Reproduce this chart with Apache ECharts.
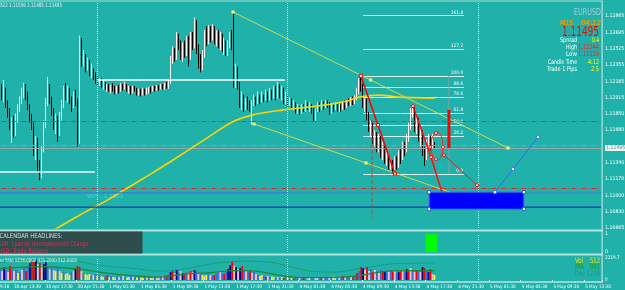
<!DOCTYPE html>
<html><head><meta charset="utf-8">
<script src="https://cdn.jsdelivr.net/npm/echarts@6/dist/echarts.min.js"></script>
<style>html,body{margin:0;padding:0;background:#20b2aa;overflow:hidden}#c{width:625px;height:290px}</style>
</head><body><div id="c"></div>
<script>
const _ctx = document.createElement('canvas').getContext('2d');
function hasFont(f) {
  const s = '30 Apr 13:30 WMwil';
  const m = font => { _ctx.font = font; return _ctx.measureText(s).width; };
  return m('20px monospace') !== m('20px "' + f + '", monospace') || m('20px serif') !== m('20px "' + f + '", serif');
}
const FAM_NAME = ['Liberation Sans Narrow', 'DejaVu Sans Condensed', 'Roboto Condensed', 'Open Sans Condensed', 'Liberation Sans'].find(hasFont) || 'Liberation Sans';
const FAM = '"' + FAM_NAME + '", Arial, sans-serif';
function textW(text, size, style) { _ctx.font = (style || '') + ' ' + size + 'px ' + FAM; return _ctx.measureText(text).width; }
function fitSize(text, width) { return 100 * width / textW(text, 100); }

// ---------- time axis ----------
const SESSIONS = [['2015-04-30 09:30', 154], ['2015-05-04 00:00', 159]];
const MONTHS = ['Jan','Feb','Mar','Apr','May','Jun','Jul','Aug','Sep','Oct','Nov','Dec'];
const LABEL_EVERY = 16;
const FIRST_BAR = 9;
// ---------- price axis ----------
const PRICE_TICKS = ['1.10665','1.10830','1.11000','1.11170','1.11340','','1.11680','1.11850','1.12015','1.12185','1.12355','1.12525','1.12695','1.12865'];
const Y_MIN = 1.10665, Y_TOP_TICK = 1.12865, Y_MAX = 1.13010;
const BID = 1.11495;
// ---------- candles [open, close, low, high] from bar 9 ----------
const candles = [
[1.1199,1.1208,1.1193,1.1212],[1.1208,1.1201,1.1199,1.1216],[1.1201,1.1210,1.1197,1.1220],[1.1210,1.1195,1.1191,1.1212],[1.1195,1.1187,1.1181,1.1199],
[1.1187,1.1170,1.1168,1.1191],[1.1170,1.1178,1.1155,1.1181],[1.1178,1.1166,1.1160,1.1183],[1.1166,1.1181,1.1162,1.1185],[1.1181,1.1191,1.1176,1.1195],
[1.1191,1.1199,1.1187,1.1203],[1.1199,1.1205,1.1195,1.1212],[1.1205,1.1214,1.1201,1.1217],[1.1214,1.1203,1.1199,1.1216],[1.1203,1.1193,1.1189,1.1208],
[1.1193,1.1181,1.1176,1.1195],[1.1181,1.1172,1.1168,1.1185],[1.1172,1.1147,1.1141,1.1176],[1.1147,1.1158,1.1137,1.1162],[1.1158,1.1129,1.1124,1.1160],
[1.1129,1.1120,1.1116,1.1137],[1.1120,1.1147,1.1118,1.1151],[1.1147,1.1174,1.1145,1.1178],[1.1174,1.1197,1.1170,1.1201],[1.1197,1.1214,1.1193,1.1223],
[1.1214,1.1199,1.1195,1.1216],[1.1199,1.1187,1.1183,1.1203],[1.1187,1.1172,1.1168,1.1191],[1.1172,1.1181,1.1164,1.1185],[1.1181,1.1166,1.1156,1.1183],
[1.1166,1.1183,1.1162,1.1187],[1.1183,1.1195,1.1178,1.1199],[1.1195,1.1208,1.1191,1.1214],[1.1208,1.1203,1.1199,1.1217],[1.1203,1.1210,1.1197,1.1214],
[1.1210,1.1199,1.1195,1.1212],[1.1199,1.1195,1.1187,1.1203],[1.1195,1.1203,1.1191,1.1208],[1.1203,1.1197,1.1193,1.1210],[1.1197,1.1158,1.1151,1.1201],
[1.1158,1.1259,1.1154,1.1266],[1.1259,1.1241,1.1234,1.1264],[1.1241,1.1245,1.1234,1.1251],[1.1245,1.1234,1.1228,1.1247],[1.1234,1.1239,1.1230,1.1243],
[1.1239,1.1228,1.1224,1.1241],[1.1228,1.1230,1.1222,1.1237],[1.1230,1.1224,1.1220,1.1232],[1.1224,1.1222,1.1216,1.1228],[1.1222,1.1218,1.1214,1.1224],
[1.1218,1.1220,1.1214,1.1222],[1.1220,1.1214,1.1212,1.1222],[1.1214,1.1216,1.1210,1.1220],[1.1216,1.1212,1.1210,1.1218],[1.1212,1.1214,1.1208,1.1216],
[1.1214,1.1210,1.1208,1.1216],[1.1210,1.1213,1.1206,1.1215],[1.1213,1.1211,1.1208,1.1217],[1.1211,1.1209,1.1205,1.1214],[1.1209,1.1212,1.1206,1.1214],
[1.1212,1.1210,1.1206,1.1215],[1.1210,1.1214,1.1208,1.1217],[1.1214,1.1212,1.1209,1.1216],[1.1212,1.1215,1.1210,1.1218],[1.1215,1.1210,1.1208,1.1216],
[1.1210,1.1213,1.1206,1.1214],[1.1213,1.1209,1.1205,1.1214],[1.1209,1.1212,1.1206,1.1214],[1.1212,1.1210,1.1208,1.1214],[1.1210,1.1208,1.1204,1.1212],
[1.1208,1.1209,1.1204,1.1211],[1.1209,1.1206,1.1203,1.1211],[1.1206,1.1210,1.1204,1.1212],[1.1210,1.1208,1.1204,1.1211],[1.1208,1.1209,1.1205,1.1212],
[1.1209,1.1211,1.1206,1.1213],[1.1211,1.1209,1.1206,1.1213],[1.1209,1.1212,1.1208,1.1214],[1.1212,1.1210,1.1208,1.1214],[1.1210,1.1213,1.1209,1.1215],
[1.1213,1.1211,1.1209,1.1215],[1.1211,1.1214,1.1210,1.1216],[1.1214,1.1212,1.1210,1.1216],[1.1212,1.1215,1.1210,1.1217],[1.1215,1.1213,1.1211,1.1218],
[1.1213,1.1218,1.1211,1.1220],[1.1218,1.1241,1.1216,1.1245],[1.1241,1.1251,1.1237,1.1255],[1.1251,1.1243,1.1239,1.1253],[1.1243,1.1266,1.1241,1.1270],
[1.1266,1.1257,1.1251,1.1268],[1.1257,1.1245,1.1241,1.1261],[1.1245,1.1255,1.1239,1.1259],[1.1255,1.1249,1.1243,1.1261],[1.1249,1.1261,1.1245,1.1266],
[1.1261,1.1243,1.1234,1.1266],[1.1243,1.1266,1.1241,1.1270],[1.1266,1.1257,1.1251,1.1270],[1.1257,1.1280,1.1253,1.1285],[1.1280,1.1253,1.1247,1.1282],
[1.1253,1.1239,1.1232,1.1257],[1.1239,1.1232,1.1228,1.1247],[1.1232,1.1247,1.1230,1.1251],[1.1247,1.1268,1.1243,1.1272],[1.1268,1.1261,1.1255,1.1276],
[1.1261,1.1272,1.1257,1.1277],[1.1272,1.1266,1.1259,1.1276],[1.1266,1.1274,1.1261,1.1278],[1.1274,1.1261,1.1257,1.1276],[1.1261,1.1268,1.1255,1.1272],
[1.1268,1.1257,1.1253,1.1272],[1.1257,1.1266,1.1251,1.1270],[1.1266,1.1253,1.1249,1.1268],[1.1253,1.1259,1.1246,1.1264],[1.1259,1.1249,1.1245,1.1261],
[1.1249,1.1257,1.1245,1.1261],[1.1257,1.1266,1.1253,1.1270],[1.1266,1.1261,1.1251,1.1272],[1.1261,1.1222,1.1212,1.1291],[1.1222,1.1230,1.1212,1.1237],
[1.1230,1.1214,1.1210,1.1234],[1.1214,1.1195,1.1191,1.1218],[1.1195,1.1203,1.1189,1.1208],[1.1203,1.1193,1.1187,1.1205],[1.1193,1.1199,1.1189,1.1201],
[1.1199,1.1195,1.1189,1.1203],[1.1195,1.1191,1.1187,1.1199],[1.1191,1.1197,1.1174,1.1199],[1.1197,1.1201,1.1193,1.1205],[1.1201,1.1197,1.1193,1.1203],
[1.1197,1.1203,1.1195,1.1208],[1.1203,1.1199,1.1195,1.1205],[1.1199,1.1203,1.1197,1.1208],[1.1203,1.1201,1.1197,1.1205],[1.1201,1.1205,1.1199,1.1210],
[1.1205,1.1201,1.1197,1.1208],[1.1201,1.1208,1.1199,1.1212],[1.1208,1.1203,1.1199,1.1210],[1.1203,1.1210,1.1201,1.1214],[1.1210,1.1203,1.1199,1.1214],
[1.1203,1.1214,1.1201,1.1218],[1.1214,1.1205,1.1201,1.1216],[1.1205,1.1210,1.1199,1.1214],[1.1210,1.1201,1.1195,1.1212],[1.1201,1.1203,1.1195,1.1208],
[1.1201,1.1197,1.1193,1.1203],[1.1197,1.1199,1.1193,1.1202],[1.1199,1.1193,1.1191,1.1201],[1.1193,1.1195,1.1189,1.1199],[1.1195,1.1189,1.1185,1.1197],
[1.1189,1.1191,1.1185,1.1195],[1.1191,1.1187,1.1184,1.1193],[1.1187,1.1193,1.1185,1.1195],[1.1193,1.1189,1.1187,1.1195],[1.1189,1.1195,1.1187,1.1199],
[1.1195,1.1191,1.1189,1.1197],[1.1191,1.1193,1.1187,1.1197],[1.1193,1.1187,1.1185,1.1195],[1.1187,1.1181,1.1177,1.1191],[1.1181,1.1189,1.1178,1.1191],
[1.1189,1.1193,1.1187,1.1197],[1.1193,1.1191,1.1187,1.1197],[1.1191,1.1195,1.1189,1.1199],[1.1195,1.1192,1.1189,1.1198],[1.1192,1.1196,1.1191,1.1199],
[1.1196,1.1193,1.1191,1.1199],[1.1193,1.1187,1.1184,1.1197],[1.1187,1.1193,1.1185,1.1195],[1.1193,1.1191,1.1187,1.1195],[1.1191,1.1194,1.1189,1.1197],
[1.1194,1.1189,1.1187,1.1195],[1.1189,1.1193,1.1187,1.1195],[1.1193,1.1190,1.1187,1.1195],[1.1190,1.1195,1.1189,1.1197],[1.1195,1.1192,1.1189,1.1199],
[1.1192,1.1197,1.1191,1.1199],[1.1197,1.1195,1.1193,1.1201],[1.1195,1.1199,1.1193,1.1202],[1.1199,1.1197,1.1194,1.1203],[1.1197,1.1201,1.1195,1.1204],
[1.1201,1.1208,1.1199,1.1212],[1.1208,1.1218,1.1205,1.1222],[1.1218,1.1212,1.1208,1.12244],[1.1212,1.1195,1.1191,1.1216],[1.1195,1.1199,1.1187,1.1201],
[1.1199,1.1183,1.1178,1.1201],[1.1183,1.1170,1.1166,1.1187],[1.1170,1.1174,1.1162,1.1178],[1.1174,1.1158,1.1154,1.1176],[1.1158,1.1164,1.1151,1.1168],
[1.1164,1.1149,1.1145,1.1166],[1.1149,1.1160,1.1145,1.1164],[1.1160,1.1143,1.1139,1.1162],[1.1143,1.1151,1.1137,1.1156],[1.1151,1.1137,1.1133,1.1154],
[1.1137,1.1141,1.1131,1.1147],[1.1141,1.1131,1.1127,1.1143],[1.1131,1.1135,1.1127,1.1139],[1.1135,1.1127,1.11229,1.1137],[1.1127,1.1137,1.1124,1.1141],
[1.1137,1.1131,1.1127,1.1141],[1.1131,1.1143,1.1129,1.1147],[1.1143,1.1139,1.1133,1.1149],[1.1139,1.1151,1.1137,1.1156],[1.1151,1.1147,1.1141,1.1156],
[1.1147,1.1160,1.1145,1.1164],[1.1160,1.1172,1.1156,1.1176],[1.1172,1.1187,1.1168,1.1191],[1.1187,1.1189,1.1181,1.1195],[1.1189,1.1170,1.1166,1.1193],
[1.1170,1.1178,1.1164,1.1183],[1.1178,1.1160,1.1156,1.1181],[1.1160,1.1166,1.1151,1.1170],[1.1166,1.1147,1.1141,1.1168],[1.1147,1.1141,1.1131,1.1151],
[1.1141,1.1151,1.1137,1.1158],[1.1151,1.1158,1.1147,1.1164],[1.1158,1.1151,1.1147,1.1162],[1.1151,1.1158,1.1149,1.1164],[1.11522,1.11495,1.11485,1.11556]
];
// ---------- volume (from bar 9) ----------
const volumes = [
1200,900,1300,1000,800,1400,1100,900,1000,700, 800,1000,1200,900,1400,1700,1900,1800,2000,1600,
1700,1500,1600,1800,1300,1100,1200,1000,900,1300, 900,700,800,600,700,500,800,900,1200,1400,
1300,900,700,600,500,600,400,500,600,400, 500,400,300,400,500,300,400,300,250,400,
300,350,400,300,250,300,400,350,300,250, 300,250,200,300,250,300,200,250,300,250,
300,350,400,500,450,600,800,900,700,1000, 800,900,700,600,800,700,900,800,1000,900,
700,600,500,400,500,600,500,400,500,700, 800,900,700,600,800,1100,1500,1800,1400,1300,
1100,1200,1400,1000,900,800,900,700,800,600, 500,400,500,400,300,400,300,350,300,250,
300,250,300,200,250,200,150,200,150,200, 150,200,150,250,200,150,200,300,250,200,
200,150,250,200,300,250,200,300,350,300, 250,300,350,400,300,350,300,400,350,500,
700,900,1300,1200,1000,1300,900,1100,800,1000, 900,800,1000,900,800,700,900,1000,800,900,
700,800,900,1000,800,1100,900,1200,1000,800, 900,1000,800,1300,1200,1000,800,1100,600,512
];
const volColorCodes = 'bpnbprbpbybpbrbnrrnprpnnbpbpybpybypybpnrrpbypybpbybpybrpbypbpbpbypbpbybpybpbypbppbpbrbnrpnbpnrbprpnbpbypybpbrbbpbrbnnrpnpnrbpbrpbpbypbrpbypbpbyrbpbyrbbpbrbpybbppbrpbbpbypbpbrpbbprbrbrnprpbrpbpbrnbpbrpbnrpbnrpbprbpnrbnrpy';
const VOL_COLORS = {b:'#4169e1', n:'#00008b', r:'#ff0000', p:'#ffbfcb', y:'#ffff00'};
const VOL_MAX = 2219.7;
const volMA = [[9,1150],[30,1350],[49,1100],[59,800],[75,450],[90,300],[102,600],[115,750],[127,950],[138,900],[148,550],[160,250],[180,280],[190,450],[205,900],[220,950],[228,931]];
const volDev = [[9,1800],[40,2150],[58,1500],[75,1200],[90,900],[104,1200],[118,1700],[132,1900],[145,1800],[154,1400],[165,900],[178,800],[192,1200],[205,1600],[220,1700],[228,1700]];
// ---------- indicator ----------
const signalBars = [224,225,226,227,228,229];
// ---------- overlays (bar index, price) ----------
const maLine = [[36,1.10643],[49,1.10798],[63,1.10954],[85,1.11227],[95,1.11355],[114,1.11608],[126,1.11764],[136,1.11836],[151,1.11888],[164,1.11919],[176,1.11950],[184,1.11982],[190,1.12023],[200,1.12044],[210,1.12023],[228,1.12013]];
const trendUpper = [[126.4,1.12906],[195.8,1.12201],[265.1,1.11495]];
const trendLower = [[137.0,1.11744],[193.5,1.11340],[250.0,1.10935]];
const fibLevels = [['161.8',1.12871],['127.2',1.12520],['100.0',1.12244],['88.6',1.12128],['78.6',1.12027],['61.8',1.11856],['50.0',1.11737],['38.2',1.11617],['0.0',1.11229]];
const fibRange = [192, 243];
const redLeg = [[190.9,1.12244],[199.5,1.11733],[208.1,1.11229]];
const redLeg2 = [[217.2,1.11930],[226.3,1.11400],[233.8,1.10903]];
const redThin = [[232.8,1.11421],[249.5,1.11110]];
const redDashV = [[196.5,1.11786],[196.5,1.10780]];
const ellipse = [229.3, 1.11515, 3.0, 0.00145];
const ellipseHandles = [[228.8,1.11650],[225.8,1.11505],[232.3,1.11505],[228.8,1.11380]];
const redBar = [[235.3,1.11889],[235.3,1.11495]];
const grayBar = [[235.3,1.12244],[235.3,1.11229]];
const blueBox = [225.3, 1.11037, 273.1, 1.10861];
const blueLeg = [[258.5,1.11037],[267.6,1.11276],[280.2,1.11608]];
const prevHigh = [[58,1.12200],[152.6,1.12200]];
const prevLow = [[8.9,1.11245],[56.8,1.11245]];
const WPY = 1.1103, NAVY_LEVEL = 1.10882;
const redLevels = [1.11774, 1.11079];
const greenLevel = 1.11525;
const daySeparators = [58, 154, 250];

// ---------- build ----------
const pad2 = n => (n < 10 ? '0' : '') + n;
const categories = [];
SESSIONS.forEach(([s, n]) => {
  const [d, t] = s.split(' ');
  const [Y, M, D] = d.split('-').map(Number);
  const [h, m] = t.split(':').map(Number);
  const t0 = Date.UTC(Y, M - 1, D, h, m);
  for (let k = 0; k < n; k++) {
    const dt = new Date(t0 + k * 900000);
    categories.push(dt.getUTCDate() + ' ' + MONTHS[dt.getUTCMonth()] + ' ' + pad2(dt.getUTCHours()) + ':' + pad2(dt.getUTCMinutes()));
  }
});
const N = categories.length;
const padArr = Array(FIRST_BAR).fill('-');
const candleData = padArr.concat(candles);
const volData = padArr.concat(volumes.map((v, k) => ({value: v, itemStyle: {color: VOL_COLORS[volColorCodes[k]] || '#4169e1'}})));
const sigData = categories.map((c, k) => signalBars.indexOf(k) >= 0 ? 1 : '-');
const Y_STEP = (Y_TOP_TICK - Y_MIN) / 13;

const FS_X = Math.max(4.6, fitSize('30 Apr 13:30', 24));
const FS_Y = Math.min(6.5, Math.max(5.2, fitSize('1.12865', 18.5)));

function T(text, x, y, color, size, width, align, style) {
  style = style || {};
  const pre = (style.fontStyle || '') + ' ' + (style.fontWeight || '');
  const w = textW(text, size, pre);
  const sx = width ? Math.min(1.15, width / w) : 1;
  return {type: 'text', x, y, scaleX: sx, z: 12, silent: true,
    style: Object.assign({text, fill: color, fontSize: size, fontFamily: FAM, align: align || 'left', verticalAlign: 'middle'}, style)};
}

const GL = -18.67, GW = 620.67;
const grids = [
  {left: GL, width: GW, top: 2, height: 226},
  {left: GL, width: GW, top: 234, height: 18},
  {left: GL, width: GW, top: 258, height: 22}
].map(g => Object.assign(g, {containLabel: false, outerBoundsMode: 'none', show: false}));

const catAxis = (gi, extra) => Object.assign({type: 'category', gridIndex: gi, data: categories, boundaryGap: true,
  axisLine: {show: false}, axisTick: {show: false}, axisLabel: {show: false}, splitLine: {show: false}}, extra || {});
const valX = gi => ({type: 'value', gridIndex: gi, min: -0.5, max: N - 0.5, show: false});

const dayMark = {symbol: 'none', silent: true, label: {show: false},
  lineStyle: {color: '#ffffff', type: 'dotted', width: 1, opacity: 0.9},
  data: daySeparators.map(i => ({xAxis: i}))};

const hLine = (price, color, type, width) => ({yAxis: price, lineStyle: {color, type, width}, label: {show: false}});
const DASHDOT = [5, 2, 1, 2];

const lineS = (data, color, width, extra) => Object.assign({type: 'line', xAxisIndex: 3, yAxisIndex: 0, data, symbol: 'none',
  lineStyle: {color, width}, itemStyle: {color}, silent: true, z: 5}, extra || {});

const option = {
  animation: false,
  backgroundColor: '#20b2aa',
  grid: grids,
  xAxis: [
    catAxis(0), catAxis(1),
    catAxis(2, {axisLabel: {show: true, interval: (i) => i % LABEL_EVERY === 0, align: 'left', margin: 4,
      color: '#ffffff', fontSize: FS_X, fontFamily: FAM, hideOverlap: false},
      axisTick: {show: true, interval: (i) => i % LABEL_EVERY === 0, length: 2, lineStyle: {color: '#d8f2ef'}}}),
    valX(0), valX(2)
  ],
  yAxis: [
    {type: 'value', gridIndex: 0, position: 'right', min: Y_MIN, max: Y_MAX, interval: Y_STEP, scale: true,
      splitLine: {show: false}, axisLine: {show: false},
      axisTick: {show: true, length: 2, lineStyle: {color: '#d8f2ef'}},
      axisLabel: {color: '#ffffff', fontSize: FS_Y, fontFamily: FAM, margin: 3, showMaxLabel: false,
        formatter: v => { const k = (v - Y_MIN) / Y_STEP, r = Math.round(k); return Math.abs(k - r) < 0.02 && PRICE_TICKS[r] ? PRICE_TICKS[r] : ''; }}},
    {type: 'value', gridIndex: 1, position: 'right', min: 0, max: 1, interval: 1,
      splitLine: {show: false}, axisLine: {show: false}, axisTick: {show: false},
      axisLabel: {color: '#ffffff', fontSize: FS_Y, fontFamily: FAM, margin: 3}},
    {type: 'value', gridIndex: 2, position: 'right', min: 0, max: VOL_MAX, interval: VOL_MAX,
      splitLine: {show: false}, axisLine: {show: false}, axisTick: {show: false},
      axisLabel: {color: '#ffffff', fontSize: FS_Y * 0.9, fontFamily: FAM, margin: 3,
        formatter: v => v < 1 ? '0' : String(VOL_MAX)}}
  ],
  series: [
    {type: 'candlestick', xAxisIndex: 0, yAxisIndex: 0, data: candleData, barWidth: 1.3, z: 4,
      itemStyle: {color: '#ffffff', color0: '#000000', borderColor: '#ffffff', borderColor0: '#000000', borderWidth: 1},
      markLine: {symbol: 'none', silent: true, precision: 5,
        data: [
          hLine(redLevels[0], '#e8262a', DASHDOT, 1),
          hLine(redLevels[1], '#e8262a', DASHDOT, 1),
          hLine(greenLevel, '#5cc87a', DASHDOT, 1),
          Object.assign(hLine(BID, '#9aa6a6', 'solid', 1), {label: {show: true, position: 'end', distance: 3,
            formatter: BID.toFixed(5), backgroundColor: '#eef8f7', color: '#5d8f8c', fontSize: FS_Y, fontFamily: FAM, padding: [1, 2, 0, 1]}})
        ].concat(daySeparators.map(i => ({xAxis: i, lineStyle: {color: '#ffffff', type: 'dotted', width: 1}, label: {show: false}})))}},
    lineS(maLine, '#ffd200', 1.6, {smooth: 0.3, clip: true}),
    lineS(prevHigh, '#ffffff', 1.5),
    lineS(prevLow, '#e8f6f5', 1.5),
    lineS([[-0.5, WPY], [154, WPY]], '#3a78d8', 1.3),
    lineS([[154, WPY], [N - 0.5, WPY]], '#3a78d8', 1.3, {lineStyle: {color: '#3a78d8', width: 1.3, type: 'dotted'}}),
    lineS([[-0.5, NAVY_LEVEL], [N - 1, NAVY_LEVEL]], '#1438a8', 1.4),
    {type: 'scatter', xAxisIndex: 3, yAxisIndex: 0, data: [[50.3, WPY]], symbolSize: 0, silent: true,
      label: {show: true, position: 'right', offset: [0, 4], formatter: 'WPY : ' + WPY.toFixed(4), color: '#4fe0dc', fontSize: Math.max(5.8, fitSize('WPY : 1.1103', 36)), fontFamily: FAM}},
    lineS(trendUpper, '#d2d848', 1, {symbol: 'rect', symbolSize: 3, showSymbol: true, itemStyle: {color: '#ffff80'}}),
    lineS(trendLower, '#d2d848', 1, {symbol: 'rect', symbolSize: 3, showSymbol: true, itemStyle: {color: '#ffff80'}}),
    {type: 'custom', xAxisIndex: 3, yAxisIndex: 0, silent: true, z: 3, clip: true,
      data: fibLevels.map(f => [fibRange[0], f[1]]),
      renderItem: (params, api) => {
        const f = fibLevels[params.dataIndex];
        const a = api.coord([fibRange[0], f[1]]), b = api.coord([fibRange[1], f[1]]);
        return {type: 'group', children: [
          {type: 'line', shape: {x1: a[0], y1: Math.round(a[1]) + 0.5, x2: b[0], y2: Math.round(a[1]) + 0.5}, style: {stroke: '#ffffff', lineWidth: 1, opacity: 0.85}},
          {type: 'text', style: {text: f[0], x: b[0] - 1, y: a[1] - 0.5, align: 'right', verticalAlign: 'bottom', fill: '#ffffff', fontSize: Math.max(4.8, fitSize('161.8', 11)), fontFamily: FAM}}
        ]};
      }},
    lineS(grayBar, '#8e9c9c', 1),
    lineS(redBar, '#ff0000', 3),
    lineS(redDashV, '#e83030', 1, {lineStyle: {color: '#e83030', width: 1, type: 'dashed'}}),
    lineS(redLeg, '#ff0000', 1.6, {symbol: 'rect', symbolSize: 3, showSymbol: true, itemStyle: {color: '#ffffff', borderColor: '#ff0000', borderWidth: 1}}),
    lineS(redLeg2, '#ff1010', 1.6, {symbol: 'circle', symbolSize: 3, showSymbol: true, itemStyle: {color: '#ffffff', borderColor: '#ff0000', borderWidth: 1}}),
    lineS(redThin, '#e02020', 1, {symbol: 'circle', symbolSize: 3, showSymbol: true, itemStyle: {color: '#ffffff', borderColor: '#ff0000', borderWidth: 1}}),
    {type: 'custom', xAxisIndex: 3, yAxisIndex: 0, silent: true, z: 6, data: [ellipse],
      renderItem: (params, api) => {
        const c = api.coord([api.value(0), api.value(1)]), t = api.coord([api.value(0) + api.value(2), api.value(1) + api.value(3)]);
        return {type: 'ellipse', shape: {cx: c[0], cy: c[1], rx: Math.abs(t[0] - c[0]), ry: Math.abs(t[1] - c[1])}, style: {fill: 'none', stroke: '#ff2020', lineWidth: 1}};
      }},
    {type: 'scatter', xAxisIndex: 3, yAxisIndex: 0, data: ellipseHandles, symbol: 'circle', symbolSize: 3, silent: true, z: 7,
      itemStyle: {color: '#ffffff', borderColor: '#ff0000', borderWidth: 1}},
    {type: 'custom', xAxisIndex: 3, yAxisIndex: 0, silent: true, z: 6, data: [blueBox],
      renderItem: (params, api) => {
        const a = api.coord([api.value(0), api.value(1)]), b = api.coord([api.value(2), api.value(3)]);
        const hs = (x, y) => ({type: 'rect', shape: {x: x - 1.5, y: y - 1.5, width: 3, height: 3}, style: {fill: '#ffffff', stroke: '#1c4cd8', lineWidth: 0.8}});
        return {type: 'group', children: [
          {type: 'rect', shape: {x: a[0], y: a[1], width: b[0] - a[0], height: b[1] - a[1]}, style: {fill: '#0000ff', stroke: '#2a6ee8', lineWidth: 1}},
          hs(a[0], a[1]), hs(b[0], a[1]), hs(a[0], b[1]), hs(b[0], b[1])
        ]};
      }},
    lineS(blueLeg, '#2a6ee8', 1, {symbol: 'rect', symbolSize: 3, showSymbol: true, z: 7, itemStyle: {color: '#ffffff', borderColor: '#2a6ee8', borderWidth: 0.8}}),
    {type: 'bar', xAxisIndex: 1, yAxisIndex: 1, data: sigData, barCategoryGap: '0%', itemStyle: {color: '#00ff00'}, silent: true, markLine: dayMark},
    {type: 'bar', xAxisIndex: 2, yAxisIndex: 2, data: volData, barCategoryGap: '8%', silent: true, markLine: dayMark},
    {type: 'line', xAxisIndex: 4, yAxisIndex: 2, data: volMA, symbol: 'none', smooth: 0.3, lineStyle: {color: '#1a8a2a', width: 1.2}, silent: true, z: 5},
    {type: 'line', xAxisIndex: 4, yAxisIndex: 2, data: volDev, symbol: 'none', smooth: 0.3, lineStyle: {color: '#1a8a2a', width: 1, type: 'dotted'}, silent: true, z: 5}
  ],
  graphic: [
    {type: 'rect', shape: {x: 0, y: 0.5, width: 603, height: 1}, style: {fill: '#a9dcd8'}, z: 10, silent: true},
    {type: 'rect', shape: {x: 601.5, y: 1, width: 1.2, height: 281.5}, style: {fill: '#b4e4e0'}, z: 10, silent: true},
    {type: 'rect', shape: {x: 0, y: 229.5, width: 603, height: 2}, style: {fill: '#b4e4e0'}, z: 10, silent: true},
    {type: 'rect', shape: {x: 0, y: 253.5, width: 603, height: 2}, style: {fill: '#b4e4e0'}, z: 10, silent: true},
    {type: 'rect', shape: {x: 0, y: 281.2, width: 603, height: 1.5}, style: {fill: '#b4e4e0'}, z: 10, silent: true},
    T('522 1.11556 1.11485 1.11495', 0, 5, '#e6eeee', 6, 62),
    T('EURUSD', 601, 13, '#a9c9dc', 8.5, 27, 'right'),
    T('M15', 560, 23, '#f09a00', 7, 13, 'left', {fontStyle: 'italic', fontWeight: 'bold'}),
    T('04:12', 601, 23, '#f09a00', 7, 20, 'right', {fontStyle: 'italic', fontWeight: 'bold'}),
    T('1.11495', 599, 32, '#ff0000', 13.5, 37, 'right'),
    ...[['Spread', '0.4', '#ffff00', 40, 17, 7], ['High', '1.12244', '#ff1a1a', 47.5, 11, 21], ['Low', '1.11229', '#ff1a1a', 54.5, 11, 21], ['Candle Time', '4:12', '#ffff00', 62, 29, 11], ['Trade 1 Pips', '2.5', '#ffff00', 69.5, 30, 8]]
      .flatMap(([k, v, c, y, wk, wv]) => [T(k, 577, y, '#ffffff', 6.5, wk, 'right'), T(v, 599, y, c, 6.5, wv, 'right')]),
    {type: 'rect', shape: {x: 0, y: 231.5, width: 142.5, height: 22}, style: {fill: '#2f4c4c'}, z: 11, silent: true},
    T('CALENDAR HEADLINES:', -0.5, 236.5, '#d6dede', 6.5, 63),
    T('EUR: Spanish Unemployment Change', -1.5, 244, '#f0284c', 6.5, 90),
    T('USD: Trade Balance', -1.5, 251, '#f0284c', 6.5, 50),
    T('er 5(b) 1236.0000 931.2000 512.0000', 0, 260.5, '#e6f0f0', 5.5, 77),
    ...[['Vol', '512', '#e8e800', 261.5, 8, 10], ['MA', '931', '#169a16', 267.5, 9, 10], ['Dev', '1236', '#1f8f8f', 274, 10, 13]]
      .flatMap(([k, v, c, y, wk, wv]) => [T(k, 575, y, c, 7.5, wk), T(v, 600, y, c, 7.5, wv, 'right')])
  ]
};
const chart = echarts.init(document.getElementById('c'), null, {renderer: 'canvas'});
chart.setOption(option);
</script></body></html>
